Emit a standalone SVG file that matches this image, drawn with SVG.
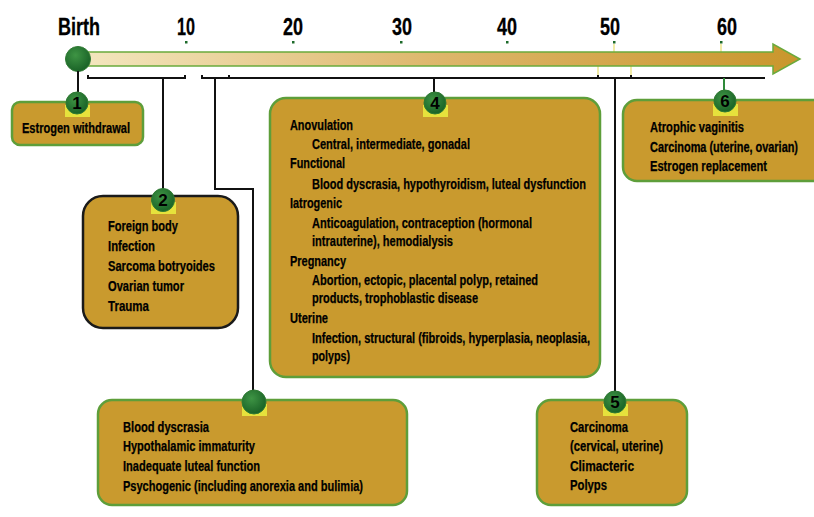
<svg xmlns="http://www.w3.org/2000/svg" width="814" height="517" viewBox="0 0 814 517">
<defs>
<linearGradient id="bar" x1="0" y1="0" x2="1" y2="0">
<stop offset="0" stop-color="#F3E6BE"/>
<stop offset="0.5" stop-color="#DDB66A"/>
<stop offset="1" stop-color="#C9962C"/>
</linearGradient>
<radialGradient id="dot" cx="0.4" cy="0.35" r="0.7">
<stop offset="0" stop-color="#3E9444"/>
<stop offset="1" stop-color="#175F25"/>
</radialGradient>
</defs>
<style>
.box{fill:#C99A2E;stroke:#5E9E3A;stroke-width:2.5}
.box2{fill:#C99A2E;stroke:#1a1a1a;stroke-width:2.5}
.ln{fill:none;stroke:#111;stroke-width:2}
.t{font-family:"Liberation Sans Narrow","Liberation Sans",Arial,sans-serif;font-weight:bold;font-size:14px;fill:#000;stroke:#000;stroke-width:0.25}
.h{font-family:"Liberation Sans Narrow","Liberation Sans",Arial,sans-serif;font-weight:bold;font-size:23px;fill:#000;stroke:#000;stroke-width:0.3}
.n{font-family:"Liberation Sans",Arial,sans-serif;font-weight:bold;font-size:17px;fill:#000;text-anchor:middle}
.hl{fill:#E6E23C}
.c{fill:url(#dot);stroke:#2f7a33;stroke-width:1}
.tk{fill:#1d6b2a}
.yt{stroke:#EDE58A;stroke-width:1.5}
</style>
<rect width="814" height="517" fill="#ffffff"/>

<g id="timeline">
<text class="h" x="58" y="35" textLength="42" lengthAdjust="spacingAndGlyphs">Birth</text>
<text class="h" x="177" y="35" textLength="18" lengthAdjust="spacingAndGlyphs">10</text>
<text class="h" x="283" y="35" textLength="20" lengthAdjust="spacingAndGlyphs">20</text>
<text class="h" x="392" y="35" textLength="20" lengthAdjust="spacingAndGlyphs">30</text>
<text class="h" x="497" y="35" textLength="20" lengthAdjust="spacingAndGlyphs">40</text>
<text class="h" x="600" y="35" textLength="20" lengthAdjust="spacingAndGlyphs">50</text>
<text class="h" x="717" y="35" textLength="20" lengthAdjust="spacingAndGlyphs">60</text>
<rect class="tk" x="185" y="41" width="2.5" height="2.5"/>
<rect class="tk" x="292" y="41" width="2.5" height="2.5"/>
<rect class="tk" x="400" y="41" width="2.5" height="2.5"/>
<rect class="tk" x="506" y="41" width="2.5" height="2.5"/>
<rect class="tk" x="613" y="41" width="2.5" height="2.5"/>
<rect class="tk" x="720" y="41" width="2.5" height="2.5"/>
<line class="yt" x1="614" y1="44" x2="614" y2="52"/>
<line class="yt" x1="721" y1="44" x2="721" y2="52"/>
<line class="yt" x1="598" y1="66" x2="598" y2="75"/>
<line class="yt" x1="631" y1="66" x2="631" y2="75"/>
<polygon points="85,52 773,52 773,44 800,59 773,74 773,66 85,66" fill="url(#bar)" stroke="#6AAA3C" stroke-width="1.5"/>
<circle class="c" cx="78" cy="59" r="12.5"/>
</g>

<g id="connectors">
<path class="ln" d="M78,71 V92"/>
<path class="ln" d="M88,75 V78 H185 V75"/>
<path class="ln" d="M163,78 V190"/>
<path class="ln" d="M202,75 V78 H765"/>
<path class="ln" d="M229,75 V78"/>
<path class="ln" d="M598,75 V78"/>
<path class="ln" d="M631,75 V78"/>
<path class="ln" d="M434,78 V92"/>
<path class="ln" d="M215,78 V189 H253 V392"/>
<path class="ln" d="M615,78 V392"/>
<path fill="none" stroke="#2f8a3a" stroke-width="2" d="M724,78 V90"/>
</g>

<g id="node1">
<rect class="box" x="12" y="102" width="131" height="43" rx="8"/>
<rect class="hl" x="65" y="105" width="25" height="12"/>
<circle class="c" cx="77" cy="103" r="11"/>
<text class="n" x="77" y="109">1</text>
<text class="t" x="22" y="133" textLength="108" lengthAdjust="spacingAndGlyphs">Estrogen withdrawal</text>
</g>

<g id="node2">
<rect class="box2" x="83" y="196" width="155" height="132" rx="20"/>
<rect class="hl" x="151" y="202" width="25" height="12"/>
<circle class="c" cx="163" cy="200" r="11.5"/>
<text class="n" x="163" y="206">2</text>
<text class="t" x="108" y="231" textLength="70" lengthAdjust="spacingAndGlyphs">Foreign body</text>
<text class="t" x="108" y="251" textLength="47" lengthAdjust="spacingAndGlyphs">Infection</text>
<text class="t" x="108" y="271" textLength="107" lengthAdjust="spacingAndGlyphs">Sarcoma botryoides</text>
<text class="t" x="108" y="291" textLength="76" lengthAdjust="spacingAndGlyphs">Ovarian tumor</text>
<text class="t" x="108" y="311" textLength="41" lengthAdjust="spacingAndGlyphs">Trauma</text>
</g>

<g id="node3">
<rect class="box" x="98" y="400" width="309" height="105" rx="14"/>
<rect class="hl" x="242" y="404" width="25" height="12"/>
<circle class="c" cx="254" cy="402" r="12"/>
<text class="t" x="123" y="432" textLength="86" lengthAdjust="spacingAndGlyphs">Blood dyscrasia</text>
<text class="t" x="123" y="451" textLength="132" lengthAdjust="spacingAndGlyphs">Hypothalamic immaturity</text>
<text class="t" x="123" y="471" textLength="137" lengthAdjust="spacingAndGlyphs">Inadequate luteal function</text>
<text class="t" x="123" y="491" textLength="240" lengthAdjust="spacingAndGlyphs">Psychogenic (including anorexia and bulimia)</text>
</g>

<g id="node4">
<rect class="box" x="270" y="98" width="330" height="279" rx="16"/>
<rect class="hl" x="423" y="105" width="25" height="12"/>
<circle class="c" cx="435" cy="103" r="11"/>
<text class="n" x="435" y="109">4</text>
<text class="t" x="290" y="130" textLength="63" lengthAdjust="spacingAndGlyphs">Anovulation</text>
<text class="t" x="312" y="149" textLength="158" lengthAdjust="spacingAndGlyphs">Central, intermediate, gonadal</text>
<text class="t" x="290" y="168" textLength="55" lengthAdjust="spacingAndGlyphs">Functional</text>
<text class="t" x="312" y="189" textLength="274" lengthAdjust="spacingAndGlyphs">Blood dyscrasia, hypothyroidism, luteal dysfunction</text>
<text class="t" x="290" y="208" textLength="52" lengthAdjust="spacingAndGlyphs">Iatrogenic</text>
<text class="t" x="312" y="228" textLength="220" lengthAdjust="spacingAndGlyphs">Anticoagulation, contraception (hormonal</text>
<text class="t" x="312" y="246" textLength="141" lengthAdjust="spacingAndGlyphs">intrauterine), hemodialysis</text>
<text class="t" x="290" y="266" textLength="56" lengthAdjust="spacingAndGlyphs">Pregnancy</text>
<text class="t" x="312" y="285" textLength="226" lengthAdjust="spacingAndGlyphs">Abortion, ectopic, placental polyp, retained</text>
<text class="t" x="312" y="303" textLength="166" lengthAdjust="spacingAndGlyphs">products, trophoblastic disease</text>
<text class="t" x="290" y="323" textLength="38" lengthAdjust="spacingAndGlyphs">Uterine</text>
<text class="t" x="312" y="343" textLength="278" lengthAdjust="spacingAndGlyphs">Infection, structural (fibroids, hyperplasia, neoplasia,</text>
<text class="t" x="312" y="361" textLength="38" lengthAdjust="spacingAndGlyphs">polyps)</text>
</g>

<g id="node5">
<rect class="box" x="537" y="400" width="150" height="105" rx="14"/>
<rect class="hl" x="603" y="404" width="25" height="12"/>
<circle class="c" cx="615" cy="402" r="11"/>
<text class="n" x="615" y="408">5</text>
<text class="t" x="570" y="432" textLength="58" lengthAdjust="spacingAndGlyphs">Carcinoma</text>
<text class="t" x="570" y="451" textLength="93" lengthAdjust="spacingAndGlyphs">(cervical, uterine)</text>
<text class="t" x="570" y="471" textLength="64" lengthAdjust="spacingAndGlyphs">Climacteric</text>
<text class="t" x="570" y="490" textLength="37" lengthAdjust="spacingAndGlyphs">Polyps</text>
</g>

<g id="node6">
<rect class="box" x="623" y="100" width="210" height="81" rx="14"/>
<rect class="hl" x="713" y="104" width="25" height="12"/>
<circle class="c" cx="725" cy="101" r="11"/>
<text class="n" x="725" y="107">6</text>
<text class="t" x="650" y="132" textLength="94" lengthAdjust="spacingAndGlyphs">Atrophic vaginitis</text>
<text class="t" transform="translate(650,152) scale(1,1.2)" x="0" y="0" style="font-size:11.5px" textLength="148" lengthAdjust="spacingAndGlyphs">Carcinoma (uterine, ovarian)</text>
<text class="t" x="650" y="171" textLength="117" lengthAdjust="spacingAndGlyphs">Estrogen replacement</text>
</g>
</svg>
